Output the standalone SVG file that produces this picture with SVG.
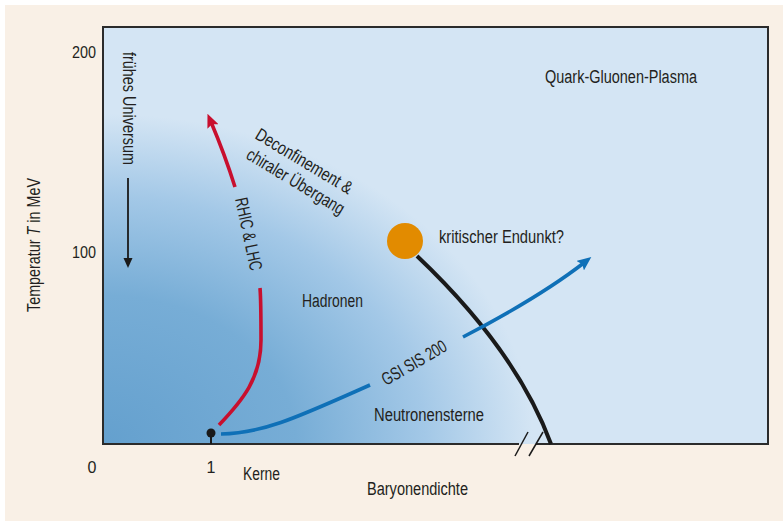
<svg xmlns="http://www.w3.org/2000/svg" width="783" height="521" viewBox="0 0 783 521">
<style>
text{font-family:"Liberation Sans",Arial,sans-serif;fill:#231f20;font-size:18px}
.ax{font-size:16px}
.red{fill:none;stroke:#c80f2e;stroke-width:3.6}
.blue{fill:none;stroke:#0f70b7;stroke-width:3.6}
.blk{fill:none;stroke:#1a1a1a}
</style>
<defs>
<radialGradient id="had" gradientUnits="userSpaceOnUse" cx="0" cy="0" r="1" gradientTransform="translate(103 444) scale(430 330)">
<stop offset="0" stop-color="#64a0ce"/>
<stop offset="0.45" stop-color="#77add6"/>
<stop offset="0.75" stop-color="#a3c8e7"/>
<stop offset="1" stop-color="#d4e5f4"/>
</radialGradient>
<marker id="ahR" viewBox="0 0 14 12" refX="6" refY="6" markerWidth="14" markerHeight="12" markerUnits="userSpaceOnUse" orient="auto">
<path d="M0,0 L14,6 L0,12 L2.5,6 z" fill="#c80f2e"/>
</marker>
<marker id="ahB" viewBox="0 0 14 12" refX="6" refY="6" markerWidth="14" markerHeight="12" markerUnits="userSpaceOnUse" orient="auto">
<path d="M0,0 L14,6 L0,12 L2.5,6 z" fill="#0f70b7"/>
</marker>
</defs>
<rect x="5" y="5" width="778" height="516" fill="#f9f0e6"/>
<g id="plot">
<rect x="103" y="27" width="665" height="417" fill="url(#had)"/>
<path d="M519,444 H103 V27 H768 V444 H536" fill="none" stroke="#2b2b2b" stroke-width="2"/>
<line x1="515" y1="456" x2="528" y2="432" stroke="#1a1a1a" stroke-width="1.5"/>
<line x1="529" y1="456" x2="543" y2="432" stroke="#1a1a1a" stroke-width="1.5"/>
</g>
<g id="axes">
<text class="ax" x="96" y="58" text-anchor="end" textLength="24" lengthAdjust="spacingAndGlyphs">200</text>
<text class="ax" x="96" y="258" text-anchor="end" textLength="24" lengthAdjust="spacingAndGlyphs">100</text>
<text class="ax" x="92" y="473" text-anchor="middle">0</text>
<text class="ax" x="211" y="473" text-anchor="middle">1</text>
<text x="243" y="480" textLength="37" lengthAdjust="spacingAndGlyphs">Kerne</text>
<text x="367" y="495" textLength="101" lengthAdjust="spacingAndGlyphs">Baryonendichte</text>
<text transform="translate(40 312) rotate(-90)" textLength="134" lengthAdjust="spacingAndGlyphs">Temperatur <tspan font-style="italic">T</tspan> in MeV</text>
</g>
<g id="connectors">
<path class="blk" d="M417,256 C455,292 520,360 551,444" stroke-width="4"/>
<path class="red" d="M219,425 C243,400 261,378 261,340 C261,315 261,300 260,288"/>
<path class="red" d="M235,187 Q225,155 210.6,121" marker-end="url(#ahR)"/>
<path class="blue" d="M221,434 C265,433 300,416 370,385"/>
<path class="blue" d="M463,337 Q540,297 585,262" marker-end="url(#ahB)"/>
<line x1="128" y1="178" x2="128" y2="260" stroke="#1a1a1a" stroke-width="1.8"/>
<polygon points="123.5,258 132.5,258 128,268" fill="#1a1a1a"/>
<line x1="211" y1="433" x2="211" y2="444" stroke="#1a1a1a" stroke-width="2"/>
</g>
<g id="kerne-dot"><circle cx="211" cy="433" r="4.5" fill="#1a1a1a"/></g>
<g id="endpunkt">
<circle cx="405" cy="241" r="18" fill="#e28b00"/>
<text x="439" y="243" textLength="125" lengthAdjust="spacingAndGlyphs">kritischer Endunkt?</text>
</g>
<g id="qgp"><text x="545" y="83" textLength="152" lengthAdjust="spacingAndGlyphs">Quark-Gluonen-Plasma</text></g>
<g id="hadronen"><text x="302" y="307" textLength="61" lengthAdjust="spacingAndGlyphs">Hadronen</text></g>
<g id="neutronensterne"><text x="374" y="421" textLength="110" lengthAdjust="spacingAndGlyphs">Neutronensterne</text></g>
<g id="universum"><text transform="translate(123 52) rotate(90)" textLength="113" lengthAdjust="spacingAndGlyphs">frühes Universum</text></g>
<g id="deconf">
<text transform="translate(254 138) rotate(31)" textLength="110" lengthAdjust="spacingAndGlyphs">Deconfinement &amp;</text>
<text transform="translate(245 158) rotate(31)" textLength="111" lengthAdjust="spacingAndGlyphs">chiraler Übergang</text>
</g>
<g id="rhic"><text transform="translate(235 199) rotate(78)" textLength="74" lengthAdjust="spacingAndGlyphs">RHIC &amp; LHC</text></g>
<g id="gsi"><text transform="translate(386 386) rotate(-30)" textLength="72" lengthAdjust="spacingAndGlyphs">GSI SIS 200</text></g>
</svg>
